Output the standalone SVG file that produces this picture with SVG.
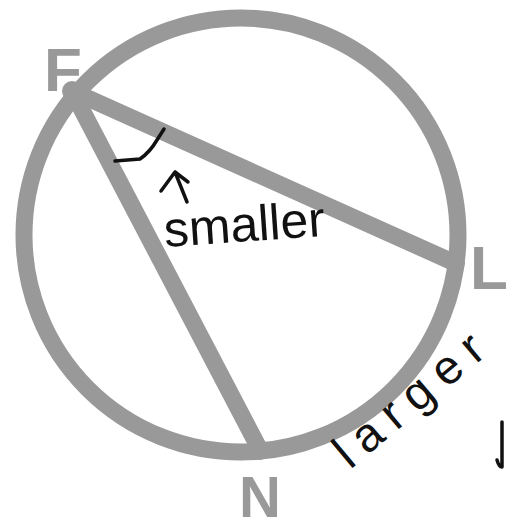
<svg xmlns="http://www.w3.org/2000/svg" width="508" height="530" viewBox="0 0 508 530">
<style>
.g{fill:none;stroke:#999999;stroke-width:17;stroke-linecap:round}
.lbl{font-family:"Liberation Sans",Arial,sans-serif;font-weight:bold;font-size:62px;fill:#999999}
.hand{font-family:"Liberation Sans",Arial,sans-serif;fill:#111111}
.ink{fill:none;stroke:#111111;stroke-width:3.5;stroke-linecap:round;stroke-linejoin:round}
</style>
<rect width="508" height="530" fill="#ffffff"/>
<g id="circle"><circle class="g" cx="241" cy="235" r="217"/></g>
<g id="connectors">
<line class="g" x1="72" y1="91" x2="455" y2="263"/>
<line class="g" x1="72" y1="91" x2="260" y2="450"/>
</g>
<g id="F"><circle cx="72" cy="91" r="10" fill="#999999"/><text class="lbl" x="44" y="91">F</text></g>
<g id="L"><circle cx="455" cy="263" r="10" fill="#999999"/><text class="lbl" x="470" y="289">L</text></g>
<g id="N"><circle cx="260" cy="450" r="10" fill="#999999"/><text class="lbl" x="239" y="517" style="font-size:58px">N</text></g>
<g id="annotations">
<path class="ink" d="M115,161 L140,159 Q150,152 157,140 L164,129"/>
<path class="ink" d="M187,202 L175,172 M161,191 L175,172 L188,182"/>
<text class="hand" x="165" y="247" font-size="50" transform="rotate(-4 165 247)">smaller</text>
<text class="hand" x="350" y="470" font-size="48" textLength="180" lengthAdjust="spacing" transform="rotate(-40 350 470)">larger</text>
<path class="ink" d="M502,422 L502,467 M497,460 Q499,467 502,467"/>
</g>
</svg>
